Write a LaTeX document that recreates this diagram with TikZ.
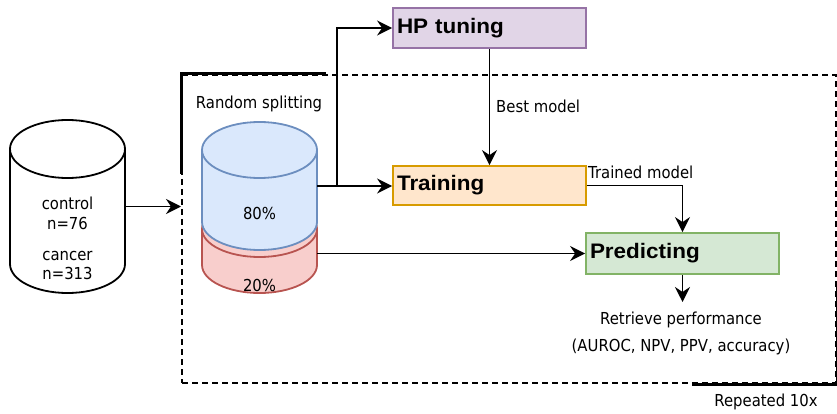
\documentclass[tikz,border=0pt]{standalone}
\usepackage{fontspec}
\setmainfont{DejaVu Sans}[FakeStretch=0.9]
\newfontfamily\titlefont{Liberation Sans}[FakeStretch=1.07]
\usetikzlibrary{arrows.meta}
\definecolor{hpF}{HTML}{E1D5E7}\definecolor{hpD}{HTML}{9673A6}
\definecolor{trF}{HTML}{FFE6CC}\definecolor{trD}{HTML}{D79B00}
\definecolor{prF}{HTML}{D5E8D4}\definecolor{prD}{HTML}{82B366}
\definecolor{blF}{HTML}{DAE8FC}\definecolor{blD}{HTML}{6C8EBF}
\definecolor{rdF}{HTML}{F8CECC}\definecolor{rdD}{HTML}{B85450}
\begin{document}
\begin{tikzpicture}[x=1pt,y=-1pt,
  txt/.style={font=\fontsize{16.5}{19.8}\selectfont, inner sep=0pt},
  stepbox/.style={draw, line width=1.8pt, minimum width=193pt, text width=185pt,
    inner xsep=4pt, inner ysep=0pt, align=left,
    font=\titlefont\bfseries\fontsize{21}{24}\selectfont},
  conn/.style={line width=1.8pt, -{Stealth[length=15pt,width=15pt,inset=5pt]}},
  ghost/.style={inner sep=0pt, minimum width=115pt},
  cyl/.style={line width=1.8pt}]
\useasboundingbox (0,0) rectangle (837,414);

% repeated loop frame
\node[draw, line width=2pt, dash pattern=on 6pt off 4pt, minimum width=654pt,
      minimum height=308pt, inner sep=0pt] (loop) at (509,229) {};
\draw[line width=3pt] ([yshift=-100pt]loop.north west) -- (loop.north west) -- ([xshift=145pt]loop.north west);
\draw[line width=3pt] ([xshift=-145pt]loop.south east) -- (loop.south east) -- ([yshift=98pt]loop.south east);

% data cylinder
\filldraw[cyl, fill=white, draw=black] (10,149) -- (10,264)
  arc[start angle=180,end angle=360,x radius=57.5pt,y radius=29pt] -- (125,149)
  arc[start angle=0,end angle=180,x radius=57.5pt,y radius=29pt] -- cycle;
\draw[cyl] (10,149) arc[start angle=180,end angle=360,x radius=57.5pt,y radius=29pt];
\node[ghost, minimum height=173pt] (db) at (67.5,206.5) {};
\node[txt, align=center] (dbtext) at (67.5,238.5)
  {control\\n=76\\[11pt]cancer\\n=313};

% red cylinder (20%)
\filldraw[cyl, fill=rdF, draw=rdD] (202,229) -- (202,265)
  arc[start angle=180,end angle=360,x radius=57.5pt,y radius=28pt] -- (317,229)
  arc[start angle=0,end angle=180,x radius=57.5pt,y radius=28pt] -- cycle;
\draw[cyl, draw=rdD] (202,229) arc[start angle=180,end angle=360,x radius=57.5pt,y radius=28pt];
% blue cylinder (80%)
\filldraw[cyl, fill=blF, draw=blD] (202,150) -- (202,222)
  arc[start angle=180,end angle=360,x radius=57.5pt,y radius=28pt] -- (317,150)
  arc[start angle=0,end angle=180,x radius=57.5pt,y radius=28pt] -- cycle;
\draw[cyl, draw=blD] (202,150) arc[start angle=180,end angle=360,x radius=57.5pt,y radius=28pt];
\node[ghost, minimum height=128pt] (tr80) at (259.5,186) {};
\node[ghost, minimum height=92pt] (te20) at (259.5,247) {};
\node[txt] (p80) at (259.5,213) {80\%};
\node[txt] (p20) at (259.5,285) {20\%};
\node[txt] (rs) at (259,104) {Random splitting};

% step boxes
\node[stepbox, fill=hpF, draw=hpD, minimum height=40pt] (hp) at (489.5,28) {HP tuning};
\node[stepbox, fill=trF, draw=trD, minimum height=39pt] (train) at (489.5,185.5) {Training};
\node[stepbox, fill=prF, draw=prD, minimum height=41pt] (pred) at (682.5,253.5) {Predicting};

% labels
\node[txt, anchor=west] (bm) at (496,106) {Best model};
\node[txt, anchor=west] (tm) at (588,172) {Trained model};
\node[txt, align=center] (perf) at (681,333.5)
  {Retrieve performance\\[7pt](AUROC, NPV, PPV, accuracy)};
\node[txt] (rep) at (766,402) {Repeated 10x};

% connectors
\coordinate (split) at (337,186);
\coordinate (perfin) at (682.5,302);
\draw[conn] (db.east) -- (db.east -| loop.west);
\draw[conn] (tr80.east) -- (tr80.east -| train.west);
\draw[conn] (split) |- (hp.west);
\draw[conn] (hp.south) -- (train.north);
\draw[conn] (train.east) -| (pred.north);
\draw[conn] (te20.east |- pred.west) -- (pred.west);
\draw[conn] (pred.south) -- (perfin);
\end{tikzpicture}
\end{document}
